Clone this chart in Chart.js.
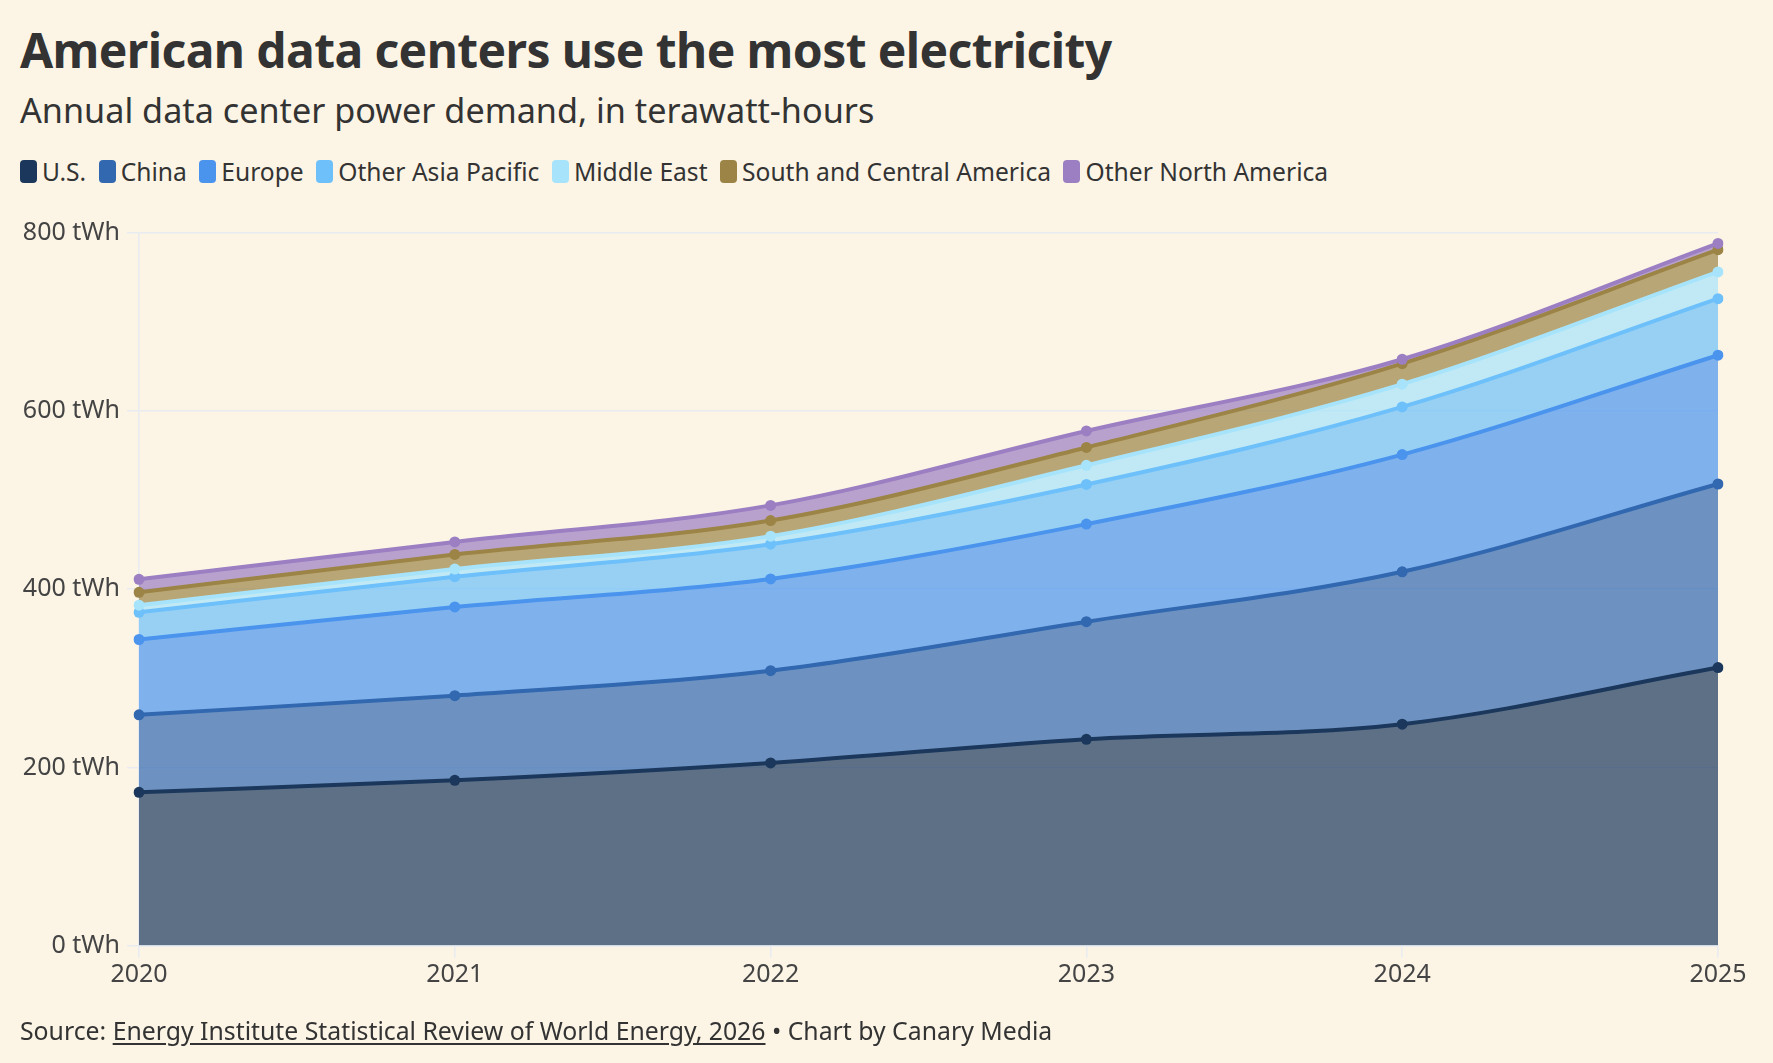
<!DOCTYPE html>
<html>
<head>
<meta charset="utf-8">
<script src="https://cdn.jsdelivr.net/npm/chart.js@4/dist/chart.umd.min.js"></script>
<style>
  html, body { margin: 0; padding: 0; }
  body {
    width: 1773px; height: 1063px; overflow: hidden;
    background: #fcf5e6; position: relative;
    font-family: "Noto Sans", sans-serif; color: #333;
  }
  #title {
    position: absolute; left: 20px; top: 17px; margin: 0;
    font-size: 48px; font-weight: 700; letter-spacing: -0.6px; white-space: nowrap;
  }
  #subtitle {
    position: absolute; left: 20px; top: 86px; margin: 0;
    font-size: 34.2px; font-weight: 400; white-space: nowrap;
  }
  #legend {
    position: absolute; left: 20px; top: 155px;
    display: flex; align-items: center; gap: 12.5px;
    font-size: 24.6px; white-space: nowrap;
  }
  .item { display: flex; align-items: center; }
  .swatch { width: 17px; height: 23px; border-radius: 4px; margin-right: 5px; }
  #footer {
    position: absolute; left: 20px; top: 1013px;
    font-size: 24.8px; white-space: nowrap;
  }
  #footer u { text-underline-offset: 3px; }
  canvas { position: absolute; left: 0; top: 0; }
</style>
</head>
<body>
<h1 id="title">American data centers use the most electricity</h1>
<h2 id="subtitle">Annual data center power demand, in terawatt-hours</h2>
<div id="legend"></div>
<canvas id="chartDemand" width="1773" height="1063"></canvas>
<div id="footer">Source: <u>Energy Institute Statistical Review of World Energy, 2026</u> • Chart by Canary Media</div>

<script>
const years = ['2020', '2021', '2022', '2023', '2024', '2025'];

// TWh per region
const usValues          = [172, 185.5, 205, 231.5, 248.5, 312];
const chinaValues       = [87, 95, 103.5, 132, 171, 206];
const europeValues      = [84.5, 99.5, 103, 109.5, 131.5, 144.5];
const otherAsiaValues   = [30.5, 34, 39, 44.5, 53.5, 63.5];
const middleEastValues  = [8, 8.5, 9, 21.5, 25.5, 30];
const southCentralValues = [14.5, 16.5, 17.5, 20, 23, 25];
const otherNAValues     = [14.5, 14, 17, 18.5, 5, 7];

const yTicks = [0, 200, 400, 600, 800];

const regions = [
    { label: 'U.S.',                     color: '#1b385c', values: usValues },
    { label: 'China',                    color: '#3168b0', values: chinaValues },
    { label: 'Europe',                   color: '#4a94ee', values: europeValues },
    { label: 'Other Asia Pacific',       color: '#6ec0fa', values: otherAsiaValues },
    { label: 'Middle East',              color: '#a7e4fb', values: middleEastValues },
    { label: 'South and Central America', color: '#9c8446', values: southCentralValues },
    { label: 'Other North America',      color: '#9b7fc2', values: otherNAValues },
];

function hexToRgba(hex, a) {
    const n = parseInt(hex.slice(1), 16);
    return `rgba(${(n >> 16) & 255}, ${(n >> 8) & 255}, ${n & 255}, ${a})`;
}

// running totals so upper layers can be drawn on top
const running = years.map(() => 0);
const datasets = regions.map((r, i) => {
    const data = r.values.map((v, j) => (running[j] += v));
    return {
        label: r.label,
        data,
        borderColor: r.color,
        backgroundColor: hexToRgba(r.color, 0.7),
        pointBackgroundColor: r.color,
        pointBorderWidth: 0,
        pointRadius: 5.5,
        borderWidth: 4,
        cubicInterpolationMode: 'monotone',
        fill: i === 0 ? 'origin' : '-1',
        order: -i,
    };
});

const legend = document.getElementById('legend');
regions.forEach(r => {
    const item = document.createElement('div');
    item.className = 'item';
    item.innerHTML = `<span class="swatch" style="background:${r.color}"></span><span>${r.label}</span>`;
    legend.appendChild(item);
});

const gridColor = '#e8ecf1';
const tickFont = { family: '"Noto Sans", sans-serif', size: 25 };

const ctx = document.getElementById('chartDemand').getContext('2d');
new Chart(ctx, {
    type: 'line',
    data: { labels: years, datasets },
    options: {
        responsive: false,
        animation: false,
        layout: { padding: { left: 0, right: 55, top: 232.7, bottom: 73 } },
        plugins: {
            legend: { display: false },
            tooltip: { enabled: false },
            filler: { drawTime: 'beforeDatasetsDraw' },
        },
        scales: {
            x: {
                offset: false,
                grid: { drawOnChartArea: false, color: gridColor, lineWidth: 1.5, tickLength: 12 },
                border: { color: gridColor, width: 1.5 },
                ticks: { color: '#444', font: tickFont, padding: 2, maxRotation: 0 },
                afterFit: s => { s.height = 44.4; },
            },
            y: {
                min: yTicks[0],
                max: yTicks[yTicks.length - 1],
                afterBuildTicks: s => { s.ticks = yTicks.map(v => ({ value: v })); },
                grid: { color: gridColor, lineWidth: 1.5, tickLength: 12 },
                border: { color: gridColor, width: 1.5 },
                ticks: { color: '#444', font: tickFont, padding: 7, callback: v => `${v} tWh` },
                afterFit: s => { s.width = 139; },
            },
        },
    },
});
</script>
</body>
</html>
